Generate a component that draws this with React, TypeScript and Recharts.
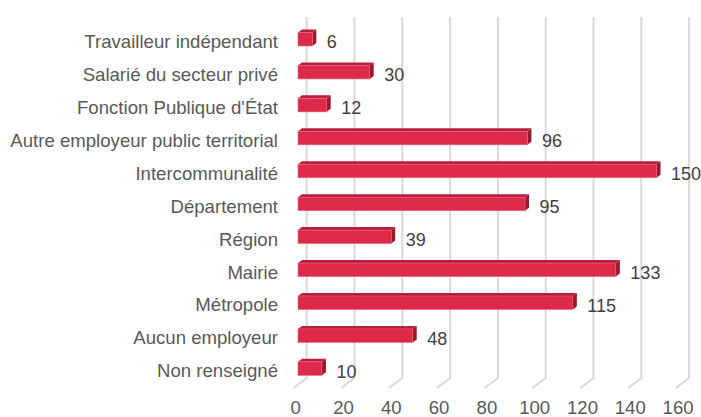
import React from "react";
import { BarChart, Bar, XAxis, YAxis, CartesianGrid, LabelList } from "recharts";

const categories = [
  "Travailleur indépendant",
  "Salarié du secteur privé",
  "Fonction Publique d'État",
  "Autre employeur public territorial",
  "Intercommunalité",
  "Département",
  "Région",
  "Mairie",
  "Métropole",
  "Aucun employeur",
  "Non renseigné",
];
const values = [6, 30, 12, 96, 150, 95, 39, 133, 115, 48, 10];
const xTicks = [0, 20, 40, 60, 80, 100, 120, 140, 160];

const data = categories.map((name, i) => ({ name, value: values[i] }));

const W = 701;
const H = 417;
const PLOT_LEFT = 298;
const PLOT_TOP = 22.5;
const PLOT_BOTTOM = 384.8;
const PLOT_RIGHT = 680.4;
const FONT = "'Liberation Sans', Arial, sans-serif";
const FS = 18.6;
const FS_VAL = 18;
const DX = 4;
const DY = 3;

const Bar3D = (props: any) => {
  const { x, y, width, height } = props;
  if (width == null || width <= 0) return null;
  const top = `M${x},${y} L${x + DX},${y - DY} L${x + width + DX},${y - DY} L${x + width},${y} Z`;
  const side = `M${x + width},${y} L${x + width + DX},${y - DY} L${x + width + DX},${y + height - DY} L${x + width},${y + height} Z`;
  return (
    <g>
      <path d={top} fill="#b81f3a" />
      <path d={side} fill="#99182f" />
      <rect x={x} y={y} width={width} height={height} fill="#de2a4a" stroke="#e8637a" strokeWidth={0.6} />
    </g>
  );
};

const gridLine = (p: any) => {
  const { x1, y1, y2 } = p;
  const d = `M${x1 - 4.5},${y2 + 3.2} L${x1 + 8.7},${y2 - 6.8} L${x1 + 8.7},${y1 - 5.5}`;
  return <path key={p.key} d={d} stroke="#d9d9d9" strokeWidth={2} fill="none" />;
};

const YTick = (p: any) => {
  const { y, payload } = p;
  return (
    <text x={PLOT_LEFT - 20} y={y + 9} textAnchor="end" fontSize={FS} fill="#595959" fontFamily={FONT}>
      {payload.value}
    </text>
  );
};

const XTick = (p: any) => {
  const { x, payload } = p;
  return (
    <text x={x - 2.3} y={414} textAnchor="middle" fontSize={FS} fill="#595959" fontFamily={FONT}>
      {payload.value}
    </text>
  );
};

const ValueLabel = (p: any) => {
  const { x, y, width, height, value } = p;
  return (
    <text x={x + width + 14.5} y={y + height / 2 + 9} textAnchor="start" fontSize={FS_VAL} fill="#404040" fontFamily={FONT}>
      {value}
    </text>
  );
};

export default function App() {
  return (
    <div style={{ position: "absolute", left: 0, top: 0, width: W, height: H, background: "#ffffff" }}>
      <BarChart
        width={W}
        height={H}
        data={data}
        layout="vertical"
        margin={{ top: PLOT_TOP, right: W - PLOT_RIGHT, left: 0, bottom: 0 }}
        barSize={13.5}
      >
        <CartesianGrid horizontal={false} vertical={gridLine} syncWithTicks />
        <XAxis
          type="number"
          domain={[0, 160]}
          ticks={xTicks}
          axisLine={false}
          tickLine={false}
          height={H - PLOT_BOTTOM}
          tick={XTick}
          interval={0}
        />
        <YAxis
          type="category"
          dataKey="name"
          width={PLOT_LEFT}
          axisLine={false}
          tickLine={false}
          tick={YTick}
          interval={0}
        />
        <Bar dataKey="value" shape={Bar3D} isAnimationActive={false}>
          <LabelList dataKey="value" content={ValueLabel} />
        </Bar>
      </BarChart>
    </div>
  );
}
